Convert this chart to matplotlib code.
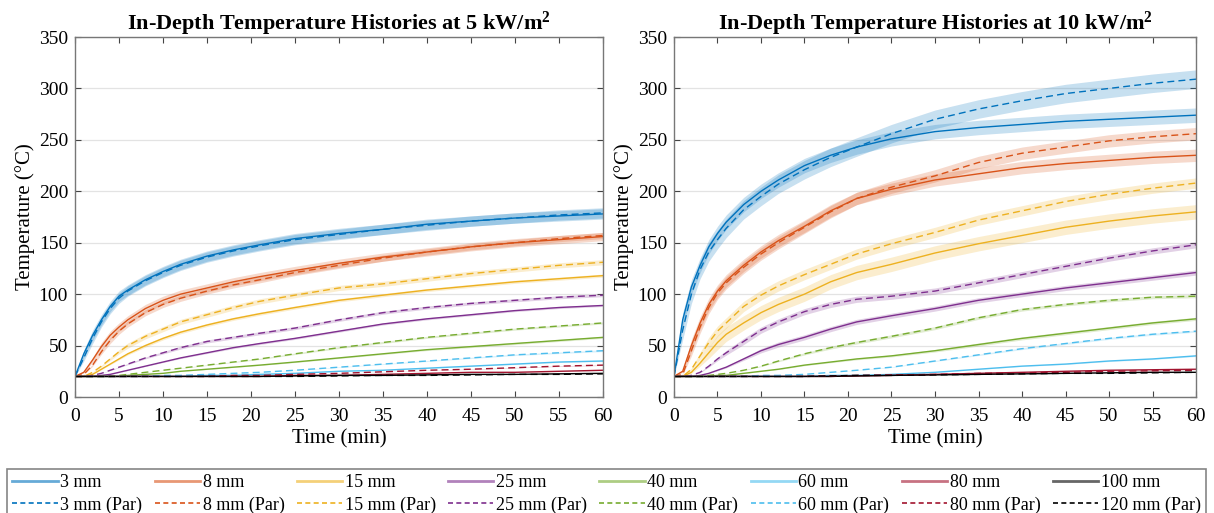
import numpy as np
import matplotlib
matplotlib.use("Agg")
from matplotlib import pyplot as plt
from matplotlib.lines import Line2D

plt.rcParams['font.family'] = ['Liberation Serif', 'DejaVu Serif']
plt.rcParams['mathtext.default'] = 'regular'

# time (min)
t = [0, 1, 2, 3, 4, 5, 6, 8, 10, 12, 15, 18, 21, 25, 30, 35, 40, 45, 50, 55, 60]

depths = ['3 mm', '8 mm', '15 mm', '25 mm', '40 mm', '60 mm', '80 mm', '100 mm']
par_depths = ['3 mm', '8 mm', '15 mm', '25 mm', '40 mm', '60 mm', '80 mm', '120 mm']
colors = ['#0072BD', '#D95319', '#EDB120', '#7E2F8E', '#77AC30', '#4DBEEE', '#A2142F', '#000000']

# 5 kW/m2 - measured
m5_3 = [20, 42, 60, 75, 88, 98, 104, 114, 122, 129, 137, 143, 148, 154, 159, 163, 168, 171, 174, 176, 178]
m5_8 = [20, 24, 36, 49, 60, 68, 75, 86, 94, 100, 106, 112, 117, 123, 130, 136, 141, 146, 150, 153, 156]
m5_15 = [20, 20, 22, 27, 32, 37, 42, 50, 57, 63, 70, 76, 81, 87, 94, 99, 104, 108, 112, 115, 118]
m5_25 = [20, 20, 20, 21, 22, 24, 26, 30, 34, 38, 43, 48, 52, 57, 64, 71, 76, 80, 84, 87, 89]
m5_40 = [20, 20, 20, 20, 20, 20, 21, 22, 23, 25, 27, 29, 31, 34, 38, 42, 46, 49, 52, 55, 58]
m5_60 = [20, 20, 20, 20, 20, 20, 20, 20, 20, 20, 21, 21, 22, 23, 25, 26, 28, 30, 32, 34, 35]
m5_80 = [20, 20, 20, 20, 20, 20, 20, 20, 20, 20, 20, 20, 20, 21, 21, 22, 23, 24, 24, 25, 26]
m5_100 = [20, 20, 20, 20, 20, 20, 20, 20, 20, 20, 20, 20, 20, 20.5, 21, 21, 21.5, 22, 22, 22.5, 23]
# 5 kW/m2 - model (Par)
p5_3 = [20, 38, 57, 73, 86, 96, 103, 113, 121, 128, 136, 142, 147, 153, 158, 163, 167, 171, 174, 177, 179]
p5_8 = [20, 22, 31, 44, 55, 64, 71, 82, 90, 96, 103, 109, 114, 121, 128, 135, 141, 146, 150, 154, 157]
p5_15 = [20, 20, 24, 30, 37, 44, 50, 59, 66, 73, 80, 87, 93, 99, 106, 110, 115, 120, 124, 128, 131]
p5_25 = [20, 20, 21, 23, 26, 29, 32, 38, 43, 48, 54, 58, 62, 67, 75, 82, 87, 91, 94, 97, 99]
p5_40 = [20, 20, 20, 20, 20, 21, 22, 24, 26, 28, 31, 34, 37, 42, 48, 53, 58, 62, 66, 69, 72]
p5_60 = [20, 20, 20, 20, 20, 20, 20, 20, 21, 21, 22, 23, 24, 26, 29, 32, 35, 38, 41, 43, 45]
p5_80 = [20, 20, 20, 20, 20, 20, 20, 20, 20, 20, 20, 21, 21, 22, 23, 24.5, 26, 27, 28.5, 30, 31]
p5_120 = [20, 20, 20, 20, 20, 20, 20, 20, 20, 20, 20, 20, 20, 20, 20.5, 21, 21, 21.5, 22, 22, 22.5]

# 10 kW/m2 - measured
m10_3 = [20, 75, 107, 128, 146, 159, 170, 187, 200, 211, 225, 235, 243, 251, 258, 262, 265, 268, 270, 272, 274]
m10_8 = [20, 25, 50, 72, 90, 103, 113, 128, 141, 152, 166, 181, 193, 202, 211, 217, 223, 227, 230, 233, 235]
m10_15 = [20, 20, 24, 33, 43, 53, 61, 72, 82, 90, 100, 112, 121, 129, 140, 149, 157, 165, 171, 176, 180]
m10_25 = [20, 20, 20, 21, 23, 26, 29, 37, 45, 51, 58, 66, 73, 79, 86, 94, 100, 106, 111, 116, 121]
m10_40 = [20, 20, 20, 20, 20, 21, 21, 23, 25, 27, 31, 34, 37, 40, 45, 51, 57, 62, 67, 72, 76]
m10_60 = [20, 20, 20, 20, 20, 20, 20, 20, 20, 20, 20, 21, 21, 22, 24, 27, 30, 32, 35, 37, 40]
m10_80 = [20, 20, 20, 20, 20, 20, 20, 20, 20, 20, 20, 20, 20.5, 21, 22, 23, 24, 25, 26, 26.5, 27]
m10_100 = [20, 20, 20, 20, 20, 20, 20, 20, 20, 20, 20, 20, 20.5, 21, 21.5, 22, 22.5, 23, 23.5, 24, 24]
# 10 kW/m2 - model (Par)
p10_3 = [20, 65, 100, 124, 141, 153, 164, 182, 195, 207, 221, 233, 243, 256, 270, 280, 288, 295, 300, 305, 309]
p10_8 = [20, 22, 45, 68, 87, 101, 111, 126, 139, 150, 165, 180, 193, 204, 215, 228, 237, 243, 249, 253, 256]
p10_15 = [20, 20, 27, 40, 53, 64, 72, 88, 99, 108, 119, 129, 139, 149, 160, 172, 181, 190, 197, 203, 208]
p10_25 = [20, 20, 21, 24, 30, 37, 43, 54, 65, 73, 83, 90, 95, 98, 103, 111, 119, 127, 135, 142, 148]
p10_40 = [20, 20, 20, 20, 21, 22, 23, 26, 30, 35, 42, 48, 53, 59, 67, 77, 85, 90, 94, 97, 98]
p10_60 = [20, 20, 20, 20, 20, 20, 20, 20, 21, 21, 22, 24, 26, 29, 35, 41, 47, 52, 57, 61, 64]
p10_80 = [20, 20, 20, 20, 20, 20, 20, 20, 20, 20, 20, 20.5, 21, 21.5, 22, 23, 23.5, 24, 25, 25.5, 26]
p10_120 = [20, 20, 20, 20, 20, 20, 20, 20, 20, 20, 20, 20.5, 21, 21, 21.5, 22, 22.5, 23, 23, 23.5, 24]

# uncertainty half-widths (deg C) for the shaded bands
band5_m = [5, 4, 1.5, 1, 1, 1, 1, 0.5]
band5_p = [5, 3, 2.5, 1.5, 1, 1, 1, 0.5]
band10_m = [7, 6, 7, 2.5, 1.5, 1, 1, 0.5]
band10_p = [9, 6, 5, 3, 1.5, 1, 1, 0.5]

panels = [
    ("In-Depth Temperature Histories at 5 kW/m$^2$",
     [m5_3, m5_8, m5_15, m5_25, m5_40, m5_60, m5_80, m5_100],
     [p5_3, p5_8, p5_15, p5_25, p5_40, p5_60, p5_80, p5_120], band5_m, band5_p),
    ("In-Depth Temperature Histories at 10 kW/m$^2$",
     [m10_3, m10_8, m10_15, m10_25, m10_40, m10_60, m10_80, m10_100],
     [p10_3, p10_8, p10_15, p10_25, p10_40, p10_60, p10_80, p10_120], band10_m, band10_p),
]

fig = plt.figure(figsize=(12.14, 5.13), dpi=100)
axes = [fig.add_axes([75/1214, 1-397/513, 528/1214, 360/513]),
        fig.add_axes([674/1214, 1-397/513, 522/1214, 360/513])]

tt = np.array(t)
for ax, (title, meas, par, bm, bp) in zip(axes, panels):
    # bands first
    for vals, hw, c in zip(meas + par, bm + bp, colors + colors):
        v = np.array(vals, dtype=float)
        w = hw * np.clip((v - 20) / 30, 0, 1)
        ax.fill_between(tt, v - w, v + w, color=c, alpha=0.22, lw=0)
    for vals, c in zip(meas, colors):
        ax.plot(tt, vals, color=c, lw=1.0)
    for vals, c in zip(par, colors):
        ax.plot(tt, vals, color=c, lw=1.0, ls=(0, (5, 3)))

    ax.set_xlim(0, 60)
    ax.set_ylim(0, 350)
    ax.set_xticks(np.arange(0, 61, 5))
    ax.set_yticks(np.arange(0, 351, 50))
    ax.tick_params(direction='in', top=True, right=True, labelsize=14,
                   color='#444444', length=4)
    ax.tick_params(axis='x', pad=8)
    ax.tick_params(axis='y', pad=5)
    for s in ax.spines.values():
        s.set_color('#777777')
        s.set_linewidth(1.0)
    ax.yaxis.grid(True, color='#e3e3e3', lw=0.9)
    ax.set_axisbelow(True)
    ax.set_xlabel('Time (min)', fontsize=15, labelpad=3)
    ax.set_ylabel('Temperature (°C)', fontsize=15, labelpad=3)
    ax.set_title(title, fontsize=16, fontweight='bold', pad=5)

# legend: solid (measured) in top row, dashed (Par) in bottom row
handles, labels = [], []
for d, pd, c in zip(depths, par_depths, colors):
    handles.append(Line2D([], [], color=c, lw=2, alpha=0.6))
    labels.append(d)
    handles.append(Line2D([], [], color=c, lw=1.2, ls=(0, (3, 2))))
    labels.append(pd + ' (Par)')
leg = fig.legend(handles, labels, ncol=8, loc='lower left', mode='expand',
                 bbox_to_anchor=(7/1214, -0.012, 1199/1214, 56/513),
                 fontsize=13, handlelength=2.5, handletextpad=0.15,
                 columnspacing=0.8, borderaxespad=0, frameon=True, fancybox=False,
                 labelspacing=0.3, borderpad=0.3)
leg.get_frame().set_edgecolor('#666666')
leg.get_frame().set_linewidth(1.2)

fig.savefig('out.png', dpi=100)
